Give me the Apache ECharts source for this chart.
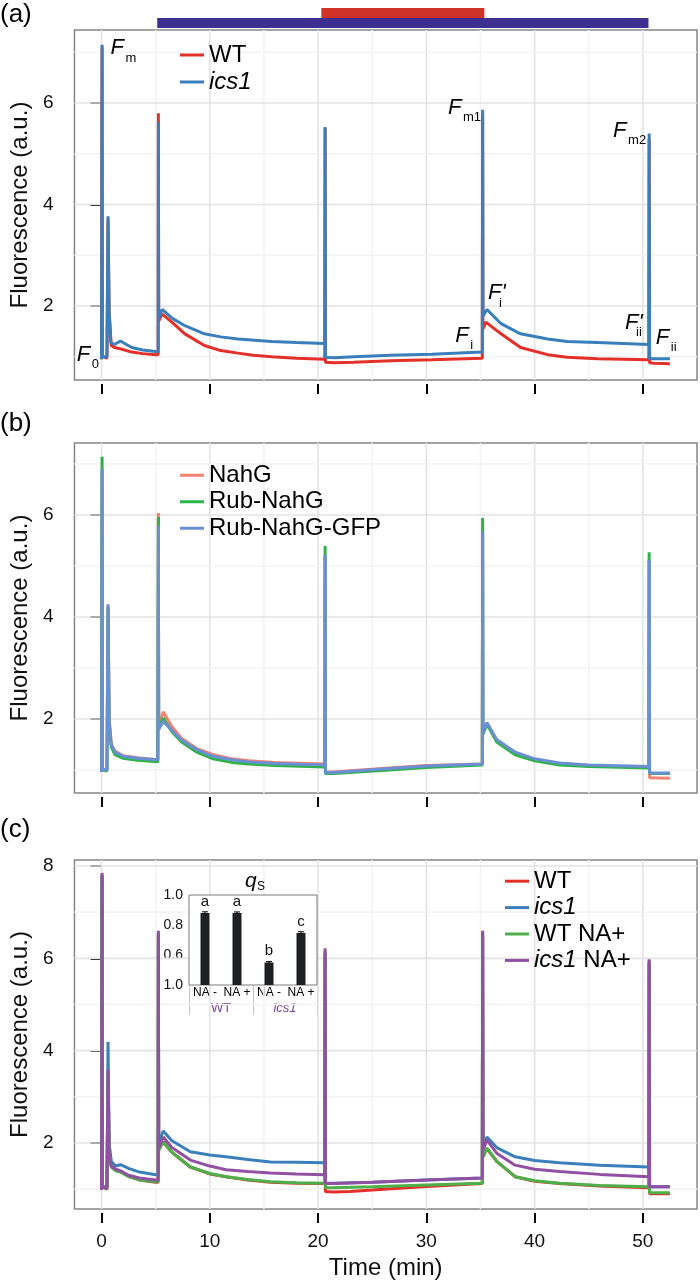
<!DOCTYPE html>
<html>
<head>
<meta charset="utf-8">
<script src="https://cdn.jsdelivr.net/npm/echarts@6/dist/echarts.min.js"></script>
<style>
* { margin: 0; padding: 0; }
#main { width: 700px; height: 1284px; }
</style>
</head>
<body>
<div id="main"></div>
<script>
// time (min) vs fluorescence (a.u.)
var wtA = [[0,0.95],[0.03,0.95],[0.05,7.1],[0.08,1.0],[0.5,0.97],[0.6,3.7],[0.7,1.9],[0.9,1.22],[1.2,1.18],[1.8,1.15],[2.8,1.09],[3.8,1.06],[5.0,1.04],[5.23,1.04],[5.25,5.8],[5.28,1.7],[5.6,1.84],[6.5,1.68],[7.7,1.45],[9.5,1.22],[11,1.12],[12.6,1.07],[14,1.03],[15.7,1.0],[18,0.97],[20.62,0.95],[20.65,5.5],[20.68,0.89],[21.5,0.88],[23.3,0.89],[26.7,0.92],[30.5,0.94],[35.17,0.97],[35.2,5.8],[35.23,1.55],[35.5,1.68],[36.9,1.45],[38.7,1.18],[41.2,1.04],[43,0.99],[45.8,0.96],[50.55,0.94],[50.58,5.3],[50.62,0.88],[51,0.87],[52.5,0.86]];
var ics1A = [[0,0.95],[0.03,0.97],[0.05,7.15],[0.08,1.0],[0.5,1.0],[0.6,3.77],[0.7,1.9],[0.85,1.28],[1.2,1.24],[1.75,1.31],[2.3,1.24],[2.8,1.18],[3.8,1.13],[5.0,1.1],[5.23,1.1],[5.25,5.62],[5.28,1.75],[5.6,1.93],[6.5,1.76],[7.7,1.61],[9.5,1.45],[11,1.39],[12.6,1.35],[15.7,1.3],[18,1.28],[20.62,1.26],[20.65,5.53],[20.68,0.99],[21.5,0.98],[23.3,1.0],[26.7,1.03],[30.5,1.05],[33,1.07],[35.17,1.09],[35.2,5.87],[35.23,1.8],[35.6,1.93],[36.9,1.65],[38.7,1.45],[41.2,1.35],[43,1.3],[45.8,1.28],[50.55,1.24],[50.58,5.4],[50.62,0.96],[51,0.96],[52.5,0.96]];

var nahgB = [[0,0.96],[0.03,0.96],[0.05,6.85],[0.08,1.02],[0.5,1.0],[0.6,4.2],[0.7,2.0],[0.9,1.5],[1.25,1.37],[2,1.28],[3.3,1.24],[5.2,1.2],[5.23,1.2],[5.25,6.04],[5.28,1.85],[5.7,2.14],[6.5,1.85],[7.4,1.62],[8.8,1.42],[10.3,1.3],[12,1.22],[13.6,1.18],[16,1.15],[20.62,1.12],[20.65,5.2],[20.68,0.96],[21.4,0.96],[25.9,1.03],[30,1.09],[35.17,1.12],[35.2,5.65],[35.23,1.75],[35.6,1.9],[36.5,1.58],[38.2,1.35],[40,1.2],[42.3,1.13],[45,1.09],[50.55,1.05],[50.58,5.1],[50.62,0.85],[52.5,0.84]];
var rubB = [[0,0.96],[0.03,0.96],[0.05,7.14],[0.08,1.0],[0.5,0.98],[0.6,4.2],[0.7,1.95],[0.9,1.45],[1.25,1.3],[2,1.23],[3.3,1.19],[5.2,1.16],[5.23,1.16],[5.25,5.96],[5.28,1.8],[5.7,2.02],[6.5,1.75],[7.4,1.55],[8.8,1.35],[10.3,1.22],[12,1.15],[13.6,1.12],[16,1.09],[20.62,1.06],[20.65,5.39],[20.68,0.93],[21.4,0.93],[25.9,0.99],[30,1.05],[35.17,1.1],[35.2,5.94],[35.23,1.7],[35.6,1.9],[36.5,1.55],[38.2,1.3],[40,1.18],[42.3,1.1],[45,1.07],[50.55,1.04],[50.58,5.27],[50.62,0.93],[52.5,0.93]];
var gfpB = [[0,0.96],[0.03,0.96],[0.05,6.9],[0.08,1.02],[0.5,1.0],[0.6,4.25],[0.7,2.0],[0.9,1.5],[1.25,1.35],[2,1.27],[3.3,1.23],[5.2,1.2],[5.23,1.2],[5.25,5.78],[5.28,1.8],[5.7,1.95],[6.5,1.78],[7.4,1.59],[8.8,1.4],[10.3,1.27],[12,1.2],[13.6,1.16],[16,1.13],[20.62,1.1],[20.65,5.22],[20.68,0.95],[21.4,0.95],[25.9,1.02],[30,1.08],[35.17,1.12],[35.2,5.67],[35.23,1.75],[35.6,1.93],[36.5,1.6],[38.2,1.35],[40,1.22],[42.3,1.14],[45,1.1],[50.55,1.07],[50.58,5.12],[50.62,0.94],[52.5,0.94]];

var wtC = [[0,0.98],[0.03,0.98],[0.05,7.8],[0.08,1.05],[0.5,1.0],[0.6,3.5],[0.7,1.8],[0.9,1.5],[1.3,1.42],[1.75,1.38],[2.5,1.28],[3.5,1.2],[5.0,1.15],[5.23,1.15],[5.25,6.5],[5.28,1.85],[5.7,2.02],[6.5,1.8],[8.2,1.48],[10,1.33],[11.5,1.27],[13.5,1.2],[15.6,1.15],[18,1.13],[20.62,1.12],[20.65,6.1],[20.68,0.95],[21.4,0.94],[23,0.95],[25,0.98],[30,1.06],[35.17,1.12],[35.2,6.5],[35.23,1.7],[35.6,1.88],[36.5,1.6],[38.2,1.27],[40,1.17],[42.3,1.12],[46,1.07],[50.55,1.03],[50.58,5.9],[50.62,0.9],[51,0.9],[52.5,0.9]];
var ics1C = [[0,0.98],[0.03,0.98],[0.05,7.8],[0.08,1.05],[0.5,1.05],[0.6,4.19],[0.7,2.0],[0.9,1.6],[1.3,1.5],[1.75,1.53],[2.5,1.45],[3.5,1.37],[5.0,1.31],[5.23,1.31],[5.25,6.55],[5.28,2.0],[5.7,2.26],[6.5,2.05],[8.2,1.81],[10,1.74],[11.5,1.7],[13.5,1.64],[15.6,1.59],[18,1.58],[20.62,1.57],[20.65,6.15],[20.68,1.13],[21.4,1.13],[25,1.15],[30,1.2],[35.17,1.24],[35.2,6.55],[35.23,1.9],[35.6,2.13],[36.5,1.9],[38.2,1.7],[40,1.62],[42.3,1.57],[46,1.52],[50.55,1.48],[50.58,5.95],[50.62,1.05],[51,1.05],[52.5,1.05]];
var wtNaC = [[0,0.98],[0.03,0.98],[0.05,7.8],[0.08,1.05],[0.5,1.0],[0.6,3.55],[0.7,1.8],[0.9,1.48],[1.3,1.4],[1.75,1.37],[2.5,1.27],[3.5,1.2],[5.0,1.16],[5.23,1.16],[5.25,6.5],[5.28,1.85],[5.7,2.02],[6.5,1.8],[8.2,1.48],[10,1.34],[11.5,1.27],[13.5,1.21],[15.6,1.16],[18,1.14],[20.62,1.13],[20.65,6.1],[20.68,1.03],[21.4,1.03],[25,1.05],[30,1.09],[35.17,1.13],[35.2,6.5],[35.23,1.7],[35.6,1.89],[36.5,1.6],[38.2,1.27],[40,1.18],[42.3,1.13],[46,1.08],[50.55,1.05],[50.58,5.9],[50.62,0.92],[51,0.92],[52.5,0.92]];
var ics1NaC = [[0,0.98],[0.03,0.98],[0.05,7.85],[0.08,1.05],[0.5,1.02],[0.6,3.58],[0.7,1.8],[0.9,1.5],[1.3,1.43],[1.75,1.4],[2.5,1.3],[3.5,1.24],[5.0,1.2],[5.23,1.2],[5.25,6.6],[5.28,1.9],[5.7,2.13],[6.5,1.9],[8.2,1.63],[10,1.5],[11.5,1.42],[13.5,1.38],[15.6,1.35],[18,1.33],[20.62,1.31],[20.65,6.22],[20.68,1.13],[21.4,1.12],[25,1.15],[30,1.2],[35.17,1.24],[35.2,6.6],[35.23,1.85],[35.6,2.06],[36.5,1.78],[38.2,1.52],[40,1.43],[42.3,1.38],[46,1.32],[50.55,1.27],[50.58,5.98],[50.62,1.05],[51,1.05],[52.5,1.05]];

// light periods above panel (a): [start, end, row]
var lightBars = [[5.5, 50.55, 0], [20.55, 35.5, 1]];
var lightColors = ['#3d2f91', '#cf3228'];

// ticks and grid lines
var xTicks = [0, 10, 20, 30, 40, 50];
var xMinor = [5, 15, 25, 35, 45];
var yTicksAB = [2, 4, 6];
var yTicksC = [2, 4, 6, 8];
var yMinor = [1, 3, 5, 7];

// parameter labels in panel (a)
var annoMain = ['F', 'F', 'F', 'F', 'F', "F'", "F'", 'F'];
var annoSub = ['m', 'm1', 'm2', '0', 'i', 'i', 'ii', 'ii'];
var annoT = [0.83, 32.0, 47.25, -2.29, 32.66, 35.69, 48.35, 51.19];
var annoV = [7.08, 5.91, 5.46, 1.04, 1.41, 2.25, 1.67, 1.38];

// inset qS
var insetCats = ['NA -', 'NA +', 'NA -', 'NA +'];
var insetGroups = ['WT', 'ics1'];
var insetVals = [0.88, 0.88, 0.55, 0.747];
var insetErr = [0.008, 0.007, 0.006, 0.008];
var insetLetters = ['a', 'a', 'b', 'c'];
var insetTickLabels = ['1.0', '0.6', '0.8', '1.0'];

var FONT = 'Liberation Sans, Arial, sans-serif';
var X_MIN = -2.5, X_MAX = 55;

var charts = echarts.init(document.getElementById('main'));

function gridData(yMajor) {
  var d = [];
  xTicks.forEach(function (v) { d.push([v, 0, 0]); });
  xMinor.forEach(function (v) { d.push([v, 0, 1]); });
  yMajor.forEach(function (v) { d.push([v, 1, 0]); });
  yMinor.forEach(function (v) { d.push([v, 1, 1]); });
  return d;
}

function renderGrid(params, api) {
  var v = api.value(0), horiz = api.value(1) === 1, minor = api.value(2) === 1;
  var cs = params.coordSys;
  var shape;
  if (horiz) {
    var y = api.coord([0, v])[1];
    shape = { x1: cs.x, y1: y, x2: cs.x + cs.width, y2: y };
  } else {
    var x = api.coord([v, 1])[0];
    shape = { x1: x, y1: cs.y, x2: x, y2: cs.y + cs.height };
  }
  return { type: 'line', shape: shape, style: { stroke: minor ? '#f3f3f3' : '#e3e3e3', lineWidth: 1.6 } };
}

function renderLight(params, api) {
  var s = api.coord([api.value(0), api.value(2) + 1]);
  var e = api.coord([api.value(1), api.value(2)]);
  return { type: 'rect', shape: { x: s[0], y: s[1], width: e[0] - s[0], height: e[1] - s[1] },
    style: { fill: lightColors[params.dataIndex] } };
}

function renderAnno(params, api) {
  var i = params.dataIndex;
  var p = api.coord([annoT[i], annoV[i]]);
  var dx = annoMain[i].length > 1 ? 11 : 15;
  return { type: 'group', children: [
    { type: 'text', x: p[0], y: p[1], style: { text: annoMain[i], fontSize: 22, fontStyle: 'italic', fontFamily: FONT, fill: '#000', align: 'left', verticalAlign: 'middle' } },
    { type: 'text', x: p[0] + dx, y: p[1] + 10, style: { text: annoSub[i], fontSize: 13, fontFamily: FONT, fill: '#000', align: 'left', verticalAlign: 'middle' } }
  ] };
}

function renderErr(params, api) {
  var i = api.value(0);
  var hi = api.coord([i, api.value(1) + api.value(2)]);
  var lo = api.coord([i, api.value(1) - api.value(2)]);
  var st = { stroke: '#000', lineWidth: 1 };
  return { type: 'group', children: [
    { type: 'line', shape: { x1: hi[0], y1: hi[1], x2: lo[0], y2: lo[1] }, style: st },
    { type: 'line', shape: { x1: hi[0] - 3, y1: hi[1], x2: hi[0] + 3, y2: hi[1] }, style: st }
  ] };
}

function mainX(gi, labels) {
  return {
    type: 'value', gridIndex: gi, min: X_MIN, max: X_MAX, offset: 4,
    axisLine: { show: false }, splitLine: { show: false },
    axisTick: { show: true, length: 10, lineStyle: { color: '#000', width: 2 }, customValues: xTicks },
    axisLabel: { show: labels, customValues: xTicks, margin: 19, fontSize: 19, color: '#111', fontFamily: FONT },
    name: labels ? 'Time (min)' : '', nameLocation: 'middle', nameGap: 43,
    nameTextStyle: { fontSize: 24, color: '#111', fontFamily: FONT }
  };
}

function mainY(gi, min, max, ticks) {
  return {
    type: 'value', gridIndex: gi, min: min, max: max, offset: 2,
    axisLine: { show: false }, splitLine: { show: false },
    axisTick: { show: true, length: 11, lineStyle: { color: '#000', width: 2 }, customValues: ticks },
    axisLabel: { customValues: ticks, margin: 19, fontSize: 19, color: '#111', fontFamily: FONT },
    name: 'Fluorescence (a.u.)', nameLocation: 'middle', nameGap: 40, nameRotate: 90,
    nameTextStyle: { fontSize: 24, color: '#111', fontFamily: FONT }
  };
}

function line(name, data, color, gi) {
  return { type: 'line', name: name, data: data, xAxisIndex: gi, yAxisIndex: gi,
    showSymbol: false, symbol: 'none', silent: true, z: 3,
    lineStyle: { color: color, width: 3 }, itemStyle: { color: color } };
}

function legend(names, left, top, lh) {
  return {
    data: names, left: left, top: top, orient: 'vertical', icon: 'rect',
    itemWidth: 24, itemHeight: 3, itemGap: 0, padding: 0, selectedMode: false,
    textStyle: { fontSize: 24, lineHeight: lh, color: '#000', fontFamily: FONT,
      rich: { i: { fontSize: 24, lineHeight: lh, fontStyle: 'italic', color: '#000', fontFamily: FONT } } },
    formatter: function (n) { return n.indexOf('ics1') === 0 ? '{i|ics1}' + n.slice(4) : n; }
  };
}

var border = { show: true, borderColor: '#858585', borderWidth: 1.5, backgroundColor: 'transparent' };

var opinion = {
  animation: false,
  backgroundColor: '#fff',
  grid: [
    { left: 70, width: 627, top: 8, height: 20 },
    Object.assign({ left: 70, width: 627, top: 30, height: 350 }, border),
    Object.assign({ left: 70, width: 627, top: 443, height: 350 }, border),
    Object.assign({ left: 70, width: 627, top: 860, height: 349 }, border),
    { left: 189, width: 128, top: 895, height: 90, show: true, borderColor: '#7a7a7a', borderWidth: 1, backgroundColor: '#fff', z: 2 }
  ],
  xAxis: [
    { type: 'value', gridIndex: 0, min: X_MIN, max: X_MAX, show: false },
    mainX(1, false), mainX(2, false), mainX(3, true),
    { type: 'category', gridIndex: 4, data: insetCats, axisLine: { show: false }, axisTick: { show: false },
      axisLabel: { margin: 2, fontSize: 12, color: '#000', fontFamily: FONT, interval: 0, hideOverlap: false } },
    { type: 'category', gridIndex: 4, data: insetGroups, position: 'bottom', axisLine: { show: false },
      axisTick: { show: true, length: 30, lineStyle: { color: '#c4c4c4', width: 1 } },
      axisLabel: { margin: 17, fontSize: 13, color: '#7b3f9e', fontFamily: FONT, interval: 0,
        formatter: function (n) { return n === 'ics1' ? '{i|ics1}' : n; },
        rich: { i: { fontSize: 13, fontStyle: 'italic', color: '#7b3f9e', fontFamily: FONT } } } }
  ],
  yAxis: [
    { type: 'value', gridIndex: 0, min: 0, max: 2, show: false },
    mainY(1, 0.54, 7.44, yTicksAB), mainY(2, 0.55, 7.41, yTicksAB), mainY(3, 0.57, 8.13, yTicksC),
    { type: 'value', gridIndex: 4, min: 0.4, max: 1.0, interval: 0.2, axisLine: { show: false }, axisTick: { show: false },
      splitLine: { show: false },
      axisLabel: { margin: 6, fontSize: 14, color: '#111', fontFamily: FONT,
        formatter: function (v) { return insetTickLabels[Math.round((v - 0.4) / 0.2)]; } } }
  ],
  legend: [
    legend(['WT', 'ics1'], 180, 41.5, 27),
    legend(['NahG', 'Rub-NahG', 'Rub-NahG-GFP'], 180, 462, 26.5),
    legend(['WT', 'ics1', 'WT NA+', 'ics1 NA+'], 505, 868, 26.4)
  ],
  graphic: [
    { type: 'text', left: 0, top: 2, style: { text: '(a)', fontSize: 26, fontFamily: FONT, fill: '#000' } },
    { type: 'text', left: 0, top: 411, style: { text: '(b)', fontSize: 26, fontFamily: FONT, fill: '#000' } },
    { type: 'text', left: 0, top: 817, style: { text: '(c)', fontSize: 26, fontFamily: FONT, fill: '#000' } },
    { type: 'text', x: 245, y: 881, z: 10, style: { text: 'q', fontSize: 21, fontStyle: 'italic', fontFamily: FONT, fill: '#000', verticalAlign: 'middle' } },
    { type: 'text', x: 257, y: 887, z: 10, style: { text: 'S', fontSize: 12, fontFamily: FONT, fill: '#000', verticalAlign: 'middle' } }
  ],
  series: [
    { type: 'custom', xAxisIndex: 0, yAxisIndex: 0, data: lightBars, renderItem: renderLight, silent: true,
      encode: { x: [0, 1], y: 2 } },
    { type: 'custom', xAxisIndex: 1, yAxisIndex: 1, data: gridData(yTicksAB), renderItem: renderGrid, silent: true, z: 1 },
    { type: 'custom', xAxisIndex: 2, yAxisIndex: 2, data: gridData(yTicksAB), renderItem: renderGrid, silent: true, z: 1 },
    { type: 'custom', xAxisIndex: 3, yAxisIndex: 3, data: gridData(yTicksC), renderItem: renderGrid, silent: true, z: 1 },
    line('WT', wtA, '#e5302a', 1),
    line('ics1', ics1A, '#3a7fbc', 1),
    line('NahG', nahgB, '#f4806f', 2),
    line('Rub-NahG', rubB, '#2eb34a', 2),
    line('Rub-NahG-GFP', gfpB, '#6b8fd5', 2),
    line('WT', wtC, '#e5302a', 3),
    line('ics1', ics1C, '#3a7fbc', 3),
    line('WT NA+', wtNaC, '#4caf4a', 3),
    line('ics1 NA+', ics1NaC, '#9150a3', 3),
    { type: 'custom', xAxisIndex: 1, yAxisIndex: 1, data: annoT.map(function (t, i) { return [t, annoV[i]]; }),
      renderItem: renderAnno, silent: true, z: 5 },
    { type: 'bar', xAxisIndex: 4, yAxisIndex: 4, data: insetVals, barWidth: 9, silent: true, z: 3,
      itemStyle: { color: '#1f2022' },
      label: { show: true, position: 'top', distance: 4, fontSize: 15, color: '#111', fontFamily: FONT,
        formatter: function (p) { return insetLetters[p.dataIndex]; } } },
    { type: 'custom', xAxisIndex: 4, yAxisIndex: 4, renderItem: renderErr, silent: true, z: 4,
      data: insetVals.map(function (v, i) { return [i, v, insetErr[i]]; }) }
  ]
};

charts.setOption(opinion);
</script>
</body>
</html>
